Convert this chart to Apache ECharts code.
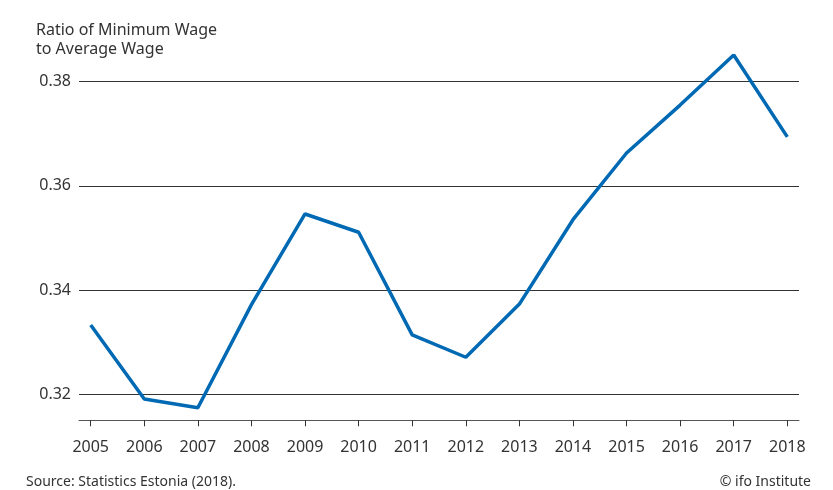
<!DOCTYPE html>
<html>
<head>
<meta charset="utf-8">
<script src="https://cdn.jsdelivr.net/npm/echarts@6/dist/echarts.min.js"></script>
<style>
  html, body { margin: 0; padding: 0; background: #fff; }
  #main { width: 833px; height: 490px; }
</style>
</head>
<body>
<div id="main"></div>
<script>
// data
var years = ['2005', '2006', '2007', '2008', '2009', '2010', '2011', '2012', '2013', '2014', '2015', '2016', '2017', '2018'];
var ratio = [0.3333, 0.3191, 0.3174, 0.3372, 0.3546, 0.3511, 0.3314, 0.3271, 0.3373, 0.3535, 0.3663, 0.3755, 0.3851, 0.3694];
var gridTicks = [0.32, 0.34, 0.36, 0.38];

var font = 'Noto Sans';
var chart = echarts.init(document.getElementById('main'));

var option = {
    animation: false,
    textStyle: { fontFamily: font },
    title: [
        {
            text: 'Ratio of Minimum Wage\nto Average Wage',
            left: 36, top: 21, padding: 0,
            textStyle: { fontFamily: font, fontSize: 16, fontWeight: 'normal', color: '#333', lineHeight: 19 }
        },
        {
            text: 'Source: Statistics Estonia (2018).',
            left: 26, top: 475, padding: 0,
            textStyle: { fontFamily: font, fontSize: 14, fontWeight: 'normal', color: '#333' }
        },
        {
            text: '© ifo Institute',
            right: 22, top: 475, padding: 0,
            textStyle: { fontFamily: font, fontSize: 14, fontWeight: 'normal', color: '#333' }
        }
    ],
    grid: [
        // gridlines + y labels
        { left: 79, right: 34, top: 81.7, bottom: 95.7 },
        // bottom axis line
        { left: 79, right: 34, top: 55.6, bottom: 69.7 },
        // data
        { left: 90.7, right: 45.7, top: 55.6, bottom: 69.7 }
    ],
    xAxis: [
        { gridIndex: 0, type: 'value', show: false, min: 0, max: 1 },
        {
            gridIndex: 1, type: 'value', min: 0, max: 1,
            axisLine: { show: true, lineStyle: { color: '#555', width: 1 } },
            axisTick: { show: false }, axisLabel: { show: false }, splitLine: { show: false }
        },
        {
            gridIndex: 2, type: 'category', data: years, boundaryGap: false,
            axisLine: { show: false },
            axisTick: { show: true, length: 6, lineStyle: { color: '#333' } },
            axisLabel: { fontFamily: font, fontSize: 16, color: '#333', margin: 19 },
            splitLine: { show: false }
        }
    ],
    yAxis: [
        {
            gridIndex: 0, type: 'value', min: 0.32, max: 0.38, interval: 0.02,
            axisLine: { show: false }, axisTick: { show: false },
            axisLabel: {
                fontFamily: font, fontSize: 16, color: '#333', margin: 8,
                formatter: function (v) {
                    for (var i = 0; i < gridTicks.length; i++) {
                        if (Math.abs(v - gridTicks[i]) < 1e-6) return gridTicks[i].toFixed(2);
                    }
                    return '';
                }
            },
            splitLine: { show: true, lineStyle: { color: '#333', width: 1 } }
        },
        { gridIndex: 1, type: 'value', show: false, min: 0, max: 1 },
        { gridIndex: 2, type: 'value', show: false, min: 0.315, max: 0.385 }
    ],
    series: [
        {
            type: 'line',
            xAxisIndex: 2, yAxisIndex: 2,
            data: ratio,
            symbol: 'none',
            lineStyle: { color: '#0069b4', width: 3.5 }
        }
    ]
};

chart.setOption(option);
</script>
</body>
</html>
